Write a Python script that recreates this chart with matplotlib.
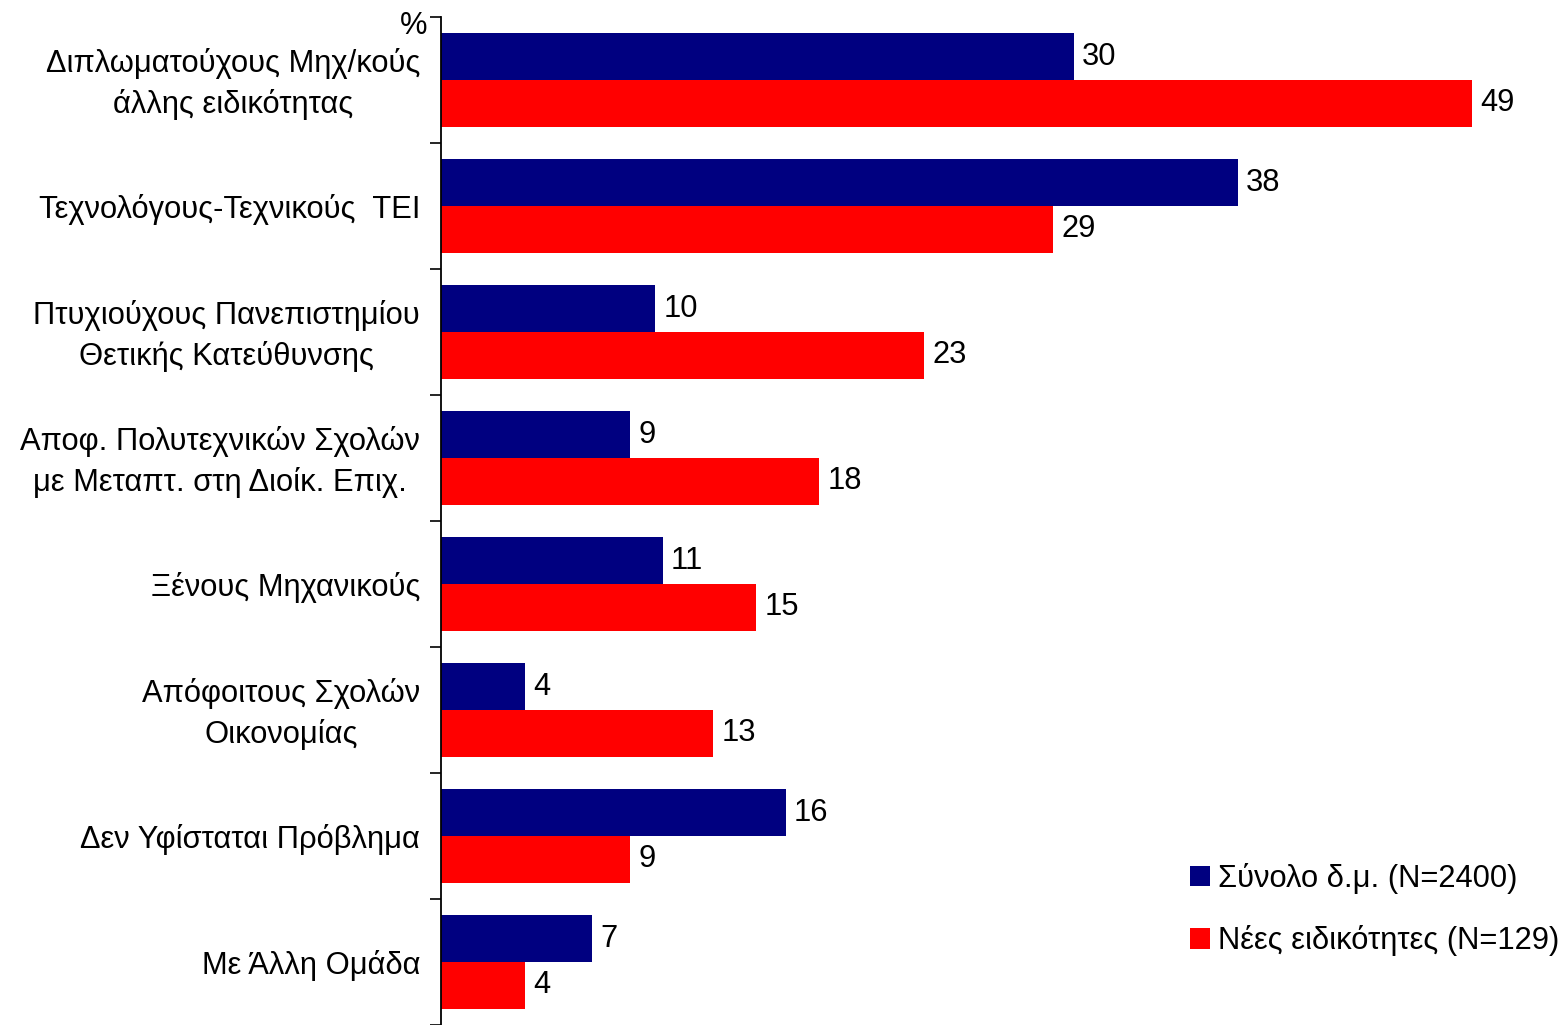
import matplotlib
matplotlib.use("Agg")
import matplotlib.pyplot as plt
import numpy as np
from matplotlib.patches import Patch

plt.rcParams['font.family'] = ['Liberation Sans', 'DejaVu Sans']

categories = [
    "Διπλωματούχους Μηχ/κούς\nάλλης ειδικότητας",
    "Τεχνολόγους-Τεχνικούς  ΤΕΙ",
    "Πτυχιούχους Πανεπιστημίου\nΘετικής Κατεύθυνσης",
    "Αποφ. Πολυτεχνικών Σχολών\nμε Μεταπτ. στη Διοίκ. Επιχ.",
    "Ξένους Μηχανικούς",
    "Απόφοιτους Σχολών\nΟικονομίας",
    "Δεν Υφίσταται Πρόβλημα",
    "Με Άλλη Ομάδα",
]
total = [30.1, 37.9, 10.2, 9.0, 10.55, 4.0, 16.4, 7.2]
new_spec = [49.05, 29.1, 23.0, 18.0, 15.0, 12.95, 9.0, 4.0]
series_names = ["Σύνολο δ.μ. (N=2400)", "Νέες ειδικότητες (N=129)"]
colors = ["#000080", "#FF0000"]

FS = 22.2

fig = plt.figure(figsize=(15.64, 10.25), dpi=100)
ax = fig.add_axes([441/1564, 0.0, 1 - 441/1564, 1 - 17/1025])

y = np.arange(len(categories))
h = 0.373
b1 = ax.barh(y - h/2, total, height=h, color=colors[0])
b2 = ax.barh(y + h/2, new_spec, height=h, color=colors[1])
ax.bar_label(b1, fmt='%.0f', padding=6, fontsize=FS)
ax.bar_label(b2, fmt='%.0f', padding=6, fontsize=FS)

ax.set_ylim(len(categories) - 0.5, -0.5)
ax.set_xlim(0, (1564 - 441) / 21.02)

ax.set_yticks(y)
ax.set_yticklabels([])
ax.tick_params(axis='y', which='major', length=0)
for yi, lab in zip(y, categories):
    dy = -2.8 if "\n" in lab else -2.2
    ax.annotate(lab, xy=(0, yi), xycoords=('axes fraction', 'data'),
                xytext=(-15, dy), textcoords='offset points',
                ha='right', va='center', multialignment='center',
                fontsize=FS, linespacing=1.42)
ax.set_yticks(np.arange(-0.5, len(categories) + 0.5, 1), minor=True)
ax.tick_params(axis='y', which='minor', length=8, width=1.2, direction='out')
ax.set_xticks([])

for s in ['top', 'right', 'bottom']:
    ax.spines[s].set_visible(False)
ax.spines['left'].set_linewidth(1.3)

fig.text(427/1564, 1 - 26/1025, "%", ha='right', va='center', fontsize=FS)

handles = [Patch(facecolor=c, edgecolor='none') for c in colors]
fig.legend(handles, series_names, loc='center left',
           bbox_to_anchor=(1190/1564, 1 - 909.5/1025), frameon=False,
           fontsize=FS, handlelength=0.65, handleheight=0.65, handletextpad=0.27,
           labelspacing=1.03, borderpad=0, borderaxespad=0)

fig.savefig("out.png", dpi=100)
